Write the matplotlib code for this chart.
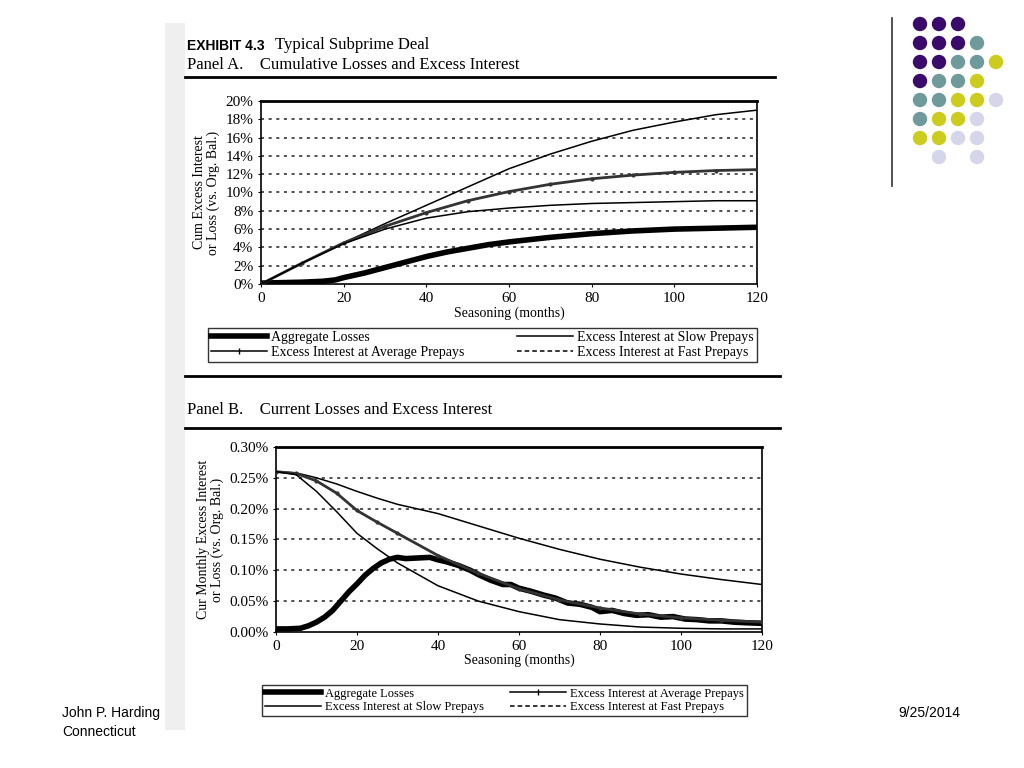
import matplotlib
matplotlib.use("Agg")
import matplotlib.pyplot as plt
from matplotlib.lines import Line2D
from matplotlib.patches import Rectangle, Circle

# Panel A: cumulative losses / excess interest (% of original balance)
months_a = [0, 10, 20, 30, 40, 50, 60, 70, 80, 90, 100, 110, 120]
cum_slow = [0, 2.3, 4.5, 6.6, 8.6, 10.6, 12.6, 14.2, 15.6, 16.8, 17.7, 18.5, 19.0]
cum_avg = [0, 2.3, 4.5, 6.3, 7.8, 9.1, 10.1, 10.9, 11.5, 11.9, 12.2, 12.4, 12.5]
cum_fast = [0, 2.3, 4.4, 6.0, 7.2, 7.9, 8.3, 8.6, 8.8, 8.9, 9.0, 9.1, 9.1]
months_loss_a = [0, 5, 10, 15, 18, 20, 25, 30, 35, 40, 45, 50, 55, 60, 70, 80, 90, 100, 110, 120]
cum_loss = [0.1, 0.15, 0.2, 0.3, 0.45, 0.7, 1.2, 1.8, 2.4, 3.0, 3.5, 3.9, 4.3, 4.6, 5.1, 5.5, 5.8, 6.0, 6.1, 6.2]
yticks_a = [0, 2, 4, 6, 8, 10, 12, 14, 16, 18, 20]

# Panel B: current monthly losses / excess interest
months_b = [0, 5, 10, 15, 20, 25, 30, 40, 50, 60, 70, 80, 90, 100, 110, 120]
cur_slow = [0.26, 0.258, 0.25, 0.24, 0.228, 0.217, 0.207, 0.192, 0.172, 0.152, 0.134, 0.118, 0.105, 0.094, 0.085, 0.077]
cur_avg = [0.26, 0.257, 0.245, 0.225, 0.197, 0.178, 0.16, 0.124, 0.095, 0.07, 0.052, 0.039, 0.029, 0.023, 0.019, 0.016]
cur_fast = [0.26, 0.255, 0.228, 0.195, 0.16, 0.135, 0.112, 0.075, 0.05, 0.033, 0.02, 0.013, 0.008, 0.006, 0.005, 0.005]
months_loss_b = [0, 3, 6, 8, 10, 12, 14, 16, 18, 20, 22, 24, 26, 28, 30, 32, 35, 38, 40, 42, 45, 48, 50,
                 53, 56, 58, 60, 63, 66, 69, 72, 75, 78, 80, 83, 86, 89, 92, 95, 98, 101, 104, 107, 110,
                 113, 116, 120]
cur_loss = [0.005, 0.005, 0.006, 0.01, 0.016, 0.024, 0.035, 0.05, 0.065, 0.078, 0.092, 0.103, 0.112,
            0.118, 0.121, 0.119, 0.12, 0.121, 0.117, 0.114, 0.108, 0.1, 0.093, 0.084, 0.077, 0.077,
            0.071, 0.066, 0.06, 0.055, 0.047, 0.045, 0.04, 0.033, 0.035, 0.03, 0.027, 0.028, 0.024,
            0.025, 0.021, 0.02, 0.018, 0.018, 0.016, 0.015, 0.014]
yticks_b = [0, 0.05, 0.10, 0.15, 0.20, 0.25, 0.30]

xticks = [0, 20, 40, 60, 80, 100, 120]

# corner decoration: colour code per dot row (P purple, T teal, Y yellow, L lavender, . empty)
dot_rows = ["PPP", "PPPT", "PPTTY", "PTTY", "TTYYL", "TYYL", "YYLL", ".L.L"]
dot_colors = {"P": "#3a0b6b", "T": "#6e9a9c", "Y": "#cccc1f", "L": "#d6d6ea"}

plt.rcParams['font.family'] = ['Liberation Serif', 'DejaVu Serif']

fig = plt.figure(figsize=(10.24, 7.68), dpi=100)

# scanned page margin
fig.patches.append(Rectangle((165 / 1024, 0.05), 20 / 1024, 0.92, transform=fig.transFigure,
                             facecolor="#efefef", edgecolor="none"))


def style_axes(ax, yticks, fmt, ylabel):
    ax.set_xlim(0, 120)
    ax.set_xticks(xticks)
    ax.set_yticks(yticks)
    ax.set_yticklabels([fmt.format(v) for v in yticks], fontsize=11)
    ax.tick_params(axis='x', labelsize=11, length=2)
    ax.tick_params(axis='y', length=2)
    ax.set_xlabel("Seasoning (months)", fontsize=10, labelpad=1)
    ax.set_ylabel(ylabel, fontsize=10, linespacing=1.0, labelpad=4)
    for g in yticks[1:-1]:
        ax.axhline(g, color="#222222", lw=1.1, ls=(0, (2, 3)), zorder=1)
    for s in ax.spines.values():
        s.set_linewidth(1.2)
    ax.spines['top'].set_linewidth(2)


# ---- Panel A
axa = fig.add_axes([0.2549, 0.6302, 0.4844, 0.2383])
axa.plot(months_loss_a, cum_loss, color="black", lw=4, zorder=3)
axa.plot(months_a, cum_slow, color="black", lw=1.1, zorder=3)
axa.plot(months_a, cum_avg, color="#333333", lw=2, marker="o", markersize=2, zorder=3)
axa.plot(months_a, cum_fast, color="black", lw=1.1, zorder=3)
axa.set_ylim(0, 20)
style_axes(axa, yticks_a, "{:.0f}%", "Cum Excess Interest\nor Loss (vs. Org. Bal.)")

# ---- Panel B
axb = fig.add_axes([0.2695, 0.1771, 0.4746, 0.2409])
axb.plot(months_loss_b, cur_loss, color="black", lw=4, zorder=3)
axb.plot(months_b, cur_slow, color="black", lw=1.1, zorder=3)
axb.plot(months_b, cur_avg, color="#333333", lw=2, marker="o", markersize=2, zorder=3)
axb.plot(months_b, cur_fast, color="black", lw=1.1, zorder=3)
axb.set_ylim(0, 0.30)
style_axes(axb, yticks_b, "{:.2f}%", "Cur Monthly Excess Interest\nor Loss (vs. Org. Bal.)")

h_loss = Line2D([], [], color="black", lw=4, label="Aggregate Losses")
h_slow = Line2D([], [], color="black", lw=1.1, label="Excess Interest at Slow Prepays")
h_avg = Line2D([], [], color="black", lw=1.1, marker="|", markersize=4, markevery=[1],
               label="Excess Interest at Average Prepays")
h_fast = Line2D([], [], color="black", lw=1.1, ls=(0, (3, 2)), label="Excess Interest at Fast Prepays")


def add_legend(handles, box, size, hlen):
    leg = fig.legend(handles=handles, loc="lower left", bbox_to_anchor=box, mode="expand",
                     ncol=2, fontsize=size, frameon=True, fancybox=False, borderpad=0.25,
                     handlelength=hlen, handletextpad=0.3, labelspacing=0.1, columnspacing=1.0,
                     borderaxespad=0)
    leg.get_frame().set_edgecolor("black")
    leg.get_frame().set_linewidth(1.0)


add_legend([h_loss, h_avg, h_slow, h_fast], (208 / 1024, 1 - 362 / 768, 549 / 1024, 33 / 768), 10, 4)
add_legend([h_loss, h_slow, h_avg, h_fast], (262 / 1024, 1 - 716 / 768, 485 / 1024, 40 / 768), 9, 4.5)

# ---- headings and rules
fig.text(187 / 1024, 1 - 46 / 768, "EXHIBIT 4.3", fontsize=10, fontweight="bold",
         family="Liberation Sans", va="center")
fig.text(275 / 1024, 1 - 45 / 768, "Typical Subprime Deal", fontsize=12, va="center")
fig.text(187 / 1024, 1 - 65 / 768, "Panel A.    Cumulative Losses and Excess Interest", fontsize=12,
         va="center")
fig.text(187 / 1024, 1 - 410 / 768, "Panel B.    Current Losses and Excess Interest", fontsize=12,
         va="center")
for y, x0, x1, lw in [(77, 185, 775, 2), (376, 185, 780, 2), (428, 185, 780, 2)]:
    fig.add_artist(Line2D([x0 / 1024, x1 / 1024], [1 - y / 768, 1 - y / 768], color="black", lw=lw))

# ---- slide decoration
fig.add_artist(Line2D([892 / 1024, 892 / 1024], [1 - 18 / 768, 1 - 186 / 768], color="#333333", lw=1.2))
for r, row in enumerate(dot_rows):
    for c, code in enumerate(row):
        if code == ".":
            continue
        cx = 920 + 19 * c
        cy = 768 - (24 + 19 * r)
        fig.patches.append(Circle((cx, cy), 7.2, transform=None,
                                  facecolor=dot_colors[code], edgecolor="none"))

fig.text(62 / 1024, 1 - 713 / 768, "John P. Harding", fontsize=10, family="Liberation Sans", va="center")
fig.text(62 / 1024, 1 - 732 / 768, "Connecticut", fontsize=10, family="Liberation Sans", va="center")
fig.text(898 / 1024, 1 - 713 / 768, "9/25/2014", fontsize=10, family="Liberation Sans", va="center")

fig.savefig("out.png", dpi=100)
